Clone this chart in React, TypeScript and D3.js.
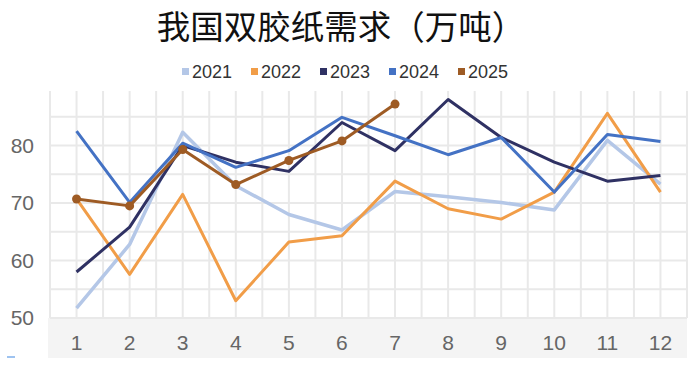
import React, { useEffect, useRef } from 'react';
import * as d3 from 'd3';

const months = ['1', '2', '3', '4', '5', '6', '7', '8', '9', '10', '11', '12'];
const years = ['2021', '2022', '2023', '2024', '2025'];
const colors = ['#b4c7e7', '#f19d48', '#2f3163', '#4472c4', '#9e5b24'];

const v2021 = [51.7, 62.8, 82.3, 73.0, 68.0, 65.3, 72.0, 71.1, 70.1, 68.8, 80.9, 73.3];
const v2022 = [70.7, 57.6, 71.5, 53.0, 63.2, 64.3, 73.8, 69.0, 67.2, 71.9, 85.6, 71.9];
const v2023 = [58.0, 65.8, 80.0, 77.1, 75.5, 84.0, 79.1, 88.0, 81.4, 77.1, 73.8, 74.8];
const v2024 = [82.5, 70.1, 80.4, 76.2, 79.1, 84.9, 81.7, 78.4, 81.4, 71.9, 81.9, 80.7];
const v2025 = [70.7, 69.5, 79.3, 73.2, 77.4, 80.8, 87.2];

const yTicks = [50, 60, 70, 80];
const series = [v2021, v2022, v2023, v2024, v2025];

const App = () => {
  const ref = useRef<SVGSVGElement>(null);
  const width = 700;
  const height = 369;
  const margin = { top: 88, right: 13, bottom: 51, left: 50 };

  useEffect(() => {
    const svg = d3.select(ref.current);
    svg.selectAll('*').remove();

    const x = d3.scaleBand(months, [margin.left, width - margin.right]);
    const cx = (m: string) => (x(m) as number) + x.bandwidth() / 2;
    const y = d3.scaleLinear([50, 90], [height - margin.bottom, margin.top]);

    // title
    svg.append('text')
      .text('我国双胶纸需求（万吨）')
      .attr('x', 341)
      .attr('y', 39)
      .attr('text-anchor', 'middle')
      .attr('font-family', 'Noto Sans CJK SC')
      .attr('font-size', 33.5)
      .attr('fill', '#111');

    // legend
    const legend = svg.append('g').attr('transform', 'translate(182, 72)');
    years.forEach((yr, i) => {
      const g = legend.append('g').attr('transform', `translate(${i * 69}, 0)`);
      g.append('rect').attr('x', 0).attr('y', -4).attr('width', 7).attr('height', 7).attr('fill', colors[i]);
      g.append('text')
        .text(yr)
        .attr('x', 10)
        .attr('y', 0)
        .attr('dy', '0.35em')
        .attr('font-family', 'Liberation Sans, Arial, sans-serif')
        .attr('font-size', 18)
        .attr('fill', '#333');
    });

    // bottom band under plot
    svg.append('rect')
      .attr('x', margin.left - 2)
      .attr('y', y(50))
      .attr('width', width - margin.right - margin.left + 2)
      .attr('height', 40)
      .attr('fill', '#f4f4f4');

    // grid
    const grid = svg.append('g').attr('stroke', '#e9e9e9').attr('stroke-width', 2);
    const xs = d3.range(0, months.length * 2 + 1).map(k => margin.left + (k * x.bandwidth()) / 2);
    grid.selectAll('line.v')
      .data(xs).enter()
      .append('line')
        .attr('x1', d => d).attr('x2', d => d)
        .attr('y1', margin.top + 3).attr('y2', y(50));
    grid.selectAll('line.h')
      .data(d3.range(50, 90, 5)).enter()
      .append('line')
        .attr('x1', margin.left).attr('x2', width - margin.right)
        .attr('y1', d => y(d)).attr('y2', d => y(d));

    // axis labels
    svg.append('g')
      .selectAll('text')
      .data(yTicks).enter()
      .append('text')
        .text(d => d)
        .attr('x', 34)
        .attr('y', d => y(d))
        .attr('dy', '0.35em')
        .attr('text-anchor', 'end')
        .attr('font-family', 'Liberation Sans, Arial, sans-serif')
        .attr('font-size', 21)
        .attr('fill', '#666');
    svg.append('g')
      .selectAll('text')
      .data(months).enter()
      .append('text')
        .text(d => d)
        .attr('x', d => cx(d))
        .attr('y', 343)
        .attr('dy', '0.35em')
        .attr('text-anchor', 'middle')
        .attr('font-family', 'Liberation Sans, Arial, sans-serif')
        .attr('font-size', 21)
        .attr('fill', '#666');

    // lines
    const line = d3.line<number>()
      .x((_, i) => cx(months[i]))
      .y(d => y(d));
    series.forEach((vals, i) => {
      svg.append('path')
        .datum(vals)
        .attr('fill', 'none')
        .attr('stroke', colors[i])
        .attr('stroke-width', i === 0 ? 3.5 : 3)
        .attr('stroke-linejoin', 'round')
        .attr('d', line);
    });
    svg.append('g')
      .selectAll('circle')
      .data(v2025).enter()
      .append('circle')
        .attr('cx', (_, i) => cx(months[i]))
        .attr('cy', d => y(d))
        .attr('r', 4.5)
        .attr('fill', colors[4]);

    // small mark at bottom-left
    svg.append('rect').attr('x', 7).attr('y', 356).attr('width', 8).attr('height', 2).attr('fill', '#9ec3f0');
  }, []);

  return (
    <svg ref={ref} width={width} height={height}
      style={{ position: 'absolute', left: 0, top: 0, background: '#fff' }} />
  );
};

export default App;
